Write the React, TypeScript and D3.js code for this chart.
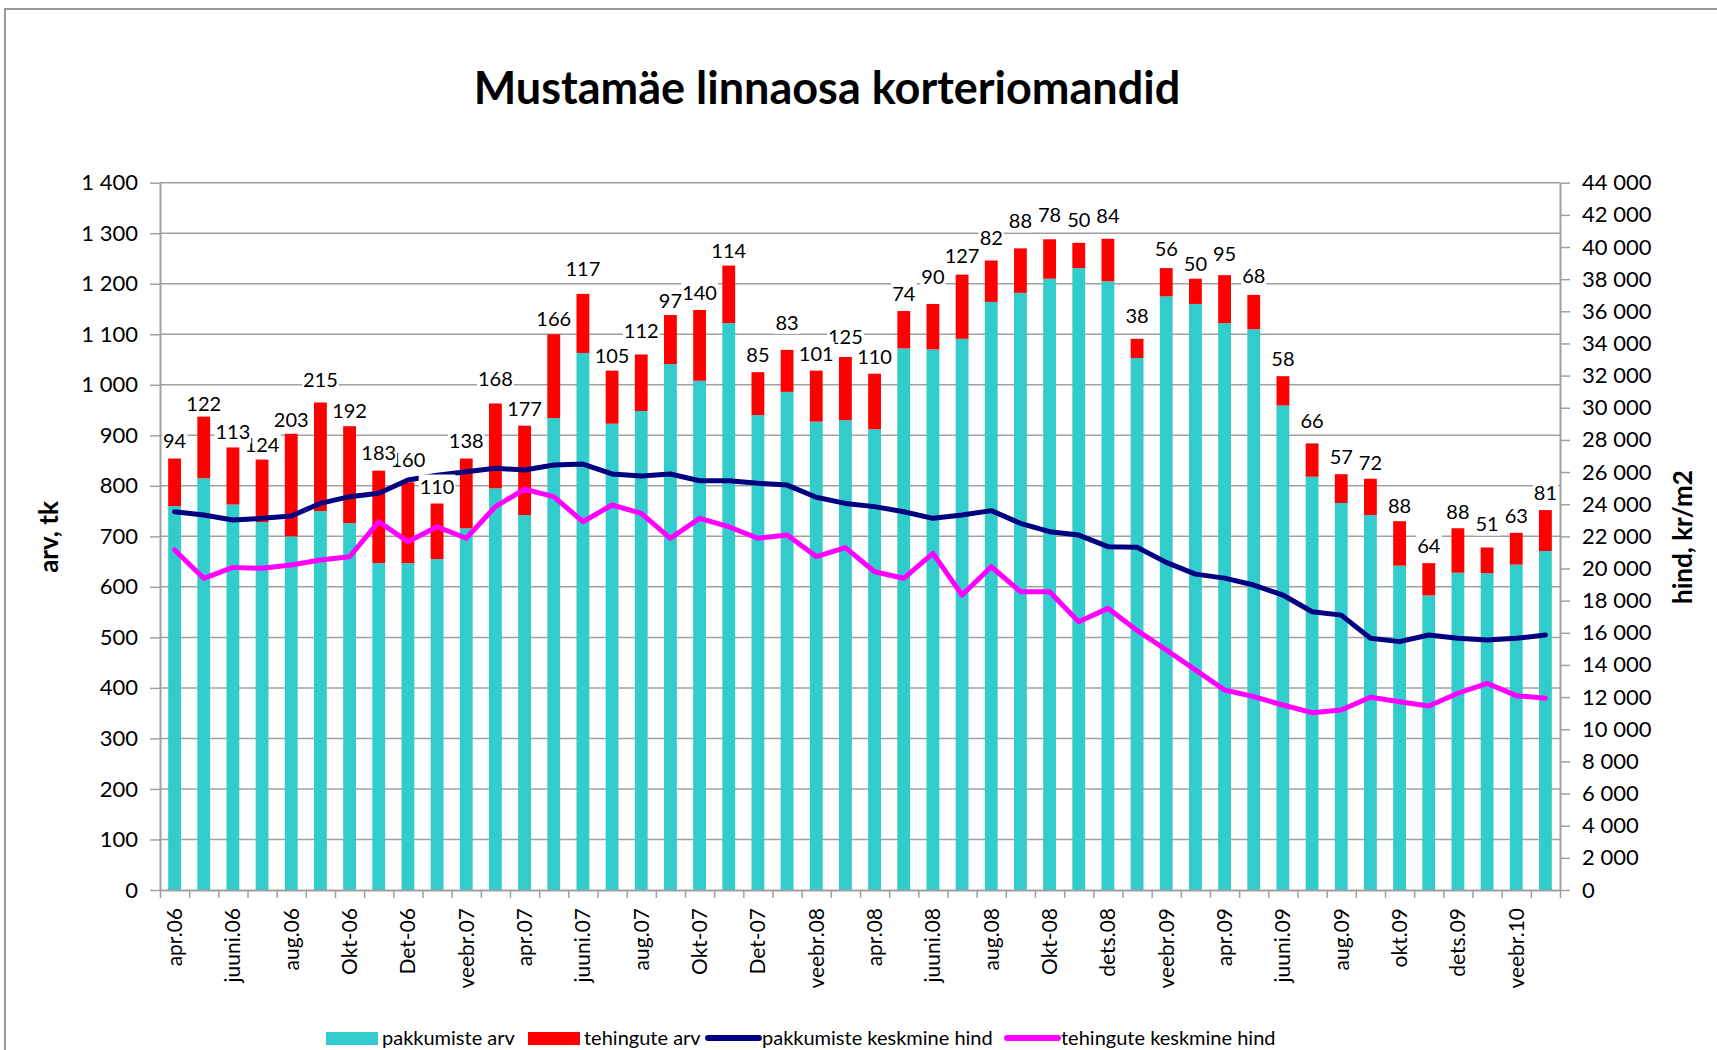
import React, { useEffect, useRef } from 'react';
import * as d3 from 'd3';

// months on the x axis (every second one gets a tick label)
const months = [
  'apr.06', 'mai.06', 'juuni.06', 'juuli.06', 'aug.06', 'sept.06', 'Okt-06', 'Nov-06', 'Det-06',
  'jaan.07', 'veebr.07', 'märts.07', 'apr.07', 'mai.07', 'juuni.07', 'juuli.07', 'aug.07', 'sept.07', 'Okt-07', 'Nov-07', 'Det-07',
  'jaan.08', 'veebr.08', 'märts.08', 'apr.08', 'mai.08', 'juuni.08', 'juuli.08', 'aug.08', 'sept.08', 'Okt-08', 'nov.08', 'dets.08',
  'jaan.09', 'veebr.09', 'märts.09', 'apr.09', 'mai.09', 'juuni.09', 'juuli.09', 'aug.09', 'sept.09', 'okt.09', 'nov.09', 'dets.09',
  'jaan.10', 'veebr.10', 'märts.10',
];

// pakkumiste arv (cyan)
const pakkumised = [
  760, 815, 763, 728, 700, 750, 726, 647, 647, 655, 716, 795, 742, 934, 1063, 923,
  948, 1041, 1008, 1122, 940, 986, 927, 930, 912, 1072, 1070, 1091, 1164, 1182, 1210, 1231,
  1205, 1053, 1175, 1160, 1122, 1110, 959, 818, 766, 742, 642, 583, 628, 627, 644, 671,
];

// tehingute arv (red, also the data labels)
const tehingud = [
  94, 122, 113, 124, 203, 215, 192, 183, 160, 110, 138, 168, 177, 166, 117, 105,
  112, 97, 140, 114, 85, 83, 101, 125, 110, 74, 90, 127, 82, 88, 78, 50,
  84, 38, 56, 50, 95, 68, 58, 66, 57, 72, 88, 64, 88, 51, 63, 81,
];

// pakkumiste keskmine hind, kr/m2
const pakkHind = [
  23530, 23330, 23020, 23120, 23270, 24050, 24470, 24680, 25500, 25800, 26020, 26230, 26130, 26440, 26500, 25880,
  25750, 25880, 25460, 25460, 25300, 25190, 24430, 24050, 23850, 23530, 23120, 23330, 23600, 22810, 22290, 22080,
  21360, 21320, 20380, 19650, 19400, 18970, 18350, 17310, 17100, 15660, 15450, 15860, 15660, 15550, 15660, 15860,
];

// tehingute keskmine hind, kr/m2
const tehHind = [
  21150, 19390, 20070, 20010, 20220, 20530, 20730, 22910, 21670, 22600, 21880, 23850, 24930, 24470, 22910, 23950,
  23430, 21880, 23120, 22600, 21880, 22080, 20740, 21300, 19800, 19390, 20940, 18350, 20110, 18560, 18560, 16690,
  17520, 16150, 14930, 13690, 12440, 12030, 11510, 11030, 11200, 11990, 11710, 11450, 12240, 12860, 12090, 11930,
];

const leftTicks = d3.range(0, 1401, 100);
const rightTicks = d3.range(0, 44001, 2000);

// how far above its bar each data label sits (px), labels were placed by hand in the original
const labelLift = [
  11, 6, 8, 8, 7, 15, 8, 11, 15, 10, 11, 17, 10, 8, 18, 8,
  16, 7, 10, 8, 10, 20, 10, 13, 10, 10, 20, 12, 16, 20, 17, 16,
  16, 16, 12, 8, 14, 12, 10, 15, 10, 9, 8, 10, 9, 16, 10, 10,
];

const FONT = 'Lato, "Open Sans", sans-serif';
const W = 1717;
const H = 1050;

function draw(node: SVGSVGElement) {
  const svg = d3.select(node);
  svg.selectAll('*').remove();

  const m = { left: 160, right: 1560, top: 182.7, bottom: 890 };

  const x = d3.scaleBand<string>().domain(months).range([m.left, m.right]).paddingInner(0.56).paddingOuter(0.28);
  const xi = d3.scaleLinear().domain([0, months.length]).range([m.left, m.right]);
  const yL = d3.scaleLinear().domain([0, 1400]).range([m.bottom, m.top]);
  const yR = d3.scaleLinear().domain([0, 44000]).range([m.bottom, m.top]);
  const cx = (i: number) => (x(months[i]) as number) + x.bandwidth() / 2;
  const fmt = (d: number) => d3.format(',')(d).replace(/,/g, ' ');

  svg.append('rect').attr('width', W).attr('height', H).attr('fill', '#fff');

  // frame
  svg.append('path')
    .attr('d', `M5,${H} V9 H${W}`)
    .attr('fill', 'none')
    .attr('stroke', '#9a9a9a')
    .attr('stroke-width', 2);

  // title
  svg.append('text')
    .attr('x', 827).attr('y', 104)
    .attr('text-anchor', 'middle')
    .attr('font-family', FONT).attr('font-weight', 700).attr('font-size', 45)
    .text('Mustamäe linnaosa korteriomandid');

  // gridlines
  svg.append('g').selectAll('line')
    .data(leftTicks.slice(1)).join('line')
    .attr('x1', m.left).attr('x2', m.right)
    .attr('y1', d => yL(d)).attr('y2', d => yL(d))
    .attr('stroke', '#a0a0a0').attr('stroke-width', 1.5);

  // bars
  const bars = svg.append('g');
  bars.selectAll('rect.pak')
    .data(pakkumised).join('rect')
    .attr('class', 'pak')
    .attr('x', (d, i) => x(months[i]) as number)
    .attr('width', x.bandwidth())
    .attr('y', d => yL(d))
    .attr('height', d => yL(0) - yL(d))
    .attr('fill', '#33cccc');
  bars.selectAll('rect.teh')
    .data(tehingud).join('rect')
    .attr('class', 'teh')
    .attr('x', (d, i) => x(months[i]) as number)
    .attr('width', x.bandwidth())
    .attr('y', (d, i) => yL(pakkumised[i] + d))
    .attr('height', (d, i) => yL(pakkumised[i]) - yL(pakkumised[i] + d))
    .attr('fill', '#ff0000');

  // axes
  const styleAxis = (g: any) => {
    g.select('.domain').attr('stroke', '#a0a0a0').attr('stroke-width', 2);
    g.selectAll('.tick line').attr('stroke', '#a0a0a0').attr('stroke-width', 1.5);
    g.selectAll('.tick text').attr('fill', '#000').attr('font-size', 22).attr('font-family', FONT);
  };

  svg.append('g')
    .attr('transform', `translate(${m.left},0)`)
    .call(d3.axisLeft(yL).tickValues(leftTicks).tickSize(10).tickSizeOuter(0).tickPadding(12).tickFormat(fmt as any))
    .call(styleAxis);

  svg.append('g')
    .attr('transform', `translate(${m.right},0)`)
    .call(d3.axisRight(yR).tickValues(rightTicks).tickSize(10).tickSizeOuter(0).tickPadding(12).tickFormat(fmt as any))
    .call(styleAxis);

  svg.append('g')
    .attr('transform', `translate(0,${m.bottom})`)
    .call(d3.axisBottom(xi).tickValues(d3.range(0, months.length + 1)).tickSize(8).tickSizeOuter(0).tickFormat(() => ''))
    .call(styleAxis);

  const xLab = svg.append('g')
    .attr('transform', `translate(0,${m.bottom})`)
    .call(d3.axisBottom(x).tickValues(months.filter((d, i) => i % 2 === 0)).tickSize(0))
    .call(styleAxis);
  xLab.select('.domain').remove();
  xLab.selectAll('.tick text')
    .attr('transform', 'rotate(-90)')
    .attr('text-anchor', 'end')
    .attr('x', -18).attr('y', 0).attr('dy', '0.35em')
    .attr('font-size', 21);

  // lines
  const line = d3.line<number>().x((d, i) => cx(i)).y(d => yR(d));
  svg.append('path')
    .datum(pakkHind)
    .attr('d', line)
    .attr('fill', 'none').attr('stroke', '#000080').attr('stroke-width', 5)
    .attr('stroke-linejoin', 'round').attr('stroke-linecap', 'round');
  svg.append('path')
    .datum(tehHind)
    .attr('d', line)
    .attr('fill', 'none').attr('stroke', '#ff00ff').attr('stroke-width', 5)
    .attr('stroke-linejoin', 'round').attr('stroke-linecap', 'round');

  // data labels with white boxes (earlier labels sit on top)
  const labels = svg.append('g');
  const order = d3.range(tehingud.length).reverse();
  order.forEach(i => {
    const g = labels.append('g');
    const t = g.append('text')
      .attr('x', cx(i))
      .attr('y', yL(pakkumised[i] + tehingud[i]) - labelLift[i])
      .attr('text-anchor', 'middle')
      .attr('font-family', FONT).attr('font-size', 20)
      .text(tehingud[i]);
    const bb = (t.node() as SVGTextElement).getBBox();
    g.insert('rect', 'text')
      .attr('x', bb.x - 1).attr('y', bb.y + 1)
      .attr('width', bb.width + 2).attr('height', bb.height - 1)
      .attr('fill', '#fff');
  });

  // axis titles
  svg.append('text')
    .attr('transform', 'translate(58,537) rotate(-90)')
    .attr('text-anchor', 'middle')
    .attr('font-family', FONT).attr('font-weight', 700).attr('font-size', 26)
    .text('arv, tk');
  svg.append('text')
    .attr('transform', 'translate(1692,537) rotate(-90)')
    .attr('text-anchor', 'middle')
    .attr('font-family', FONT).attr('font-weight', 700).attr('font-size', 26)
    .text('hind, kr/m2');

  // legend
  const legend = [
    { name: 'pakkumiste arv', color: '#33cccc', kind: 'rect', x: 326 },
    { name: 'tehingute arv', color: '#ff0000', kind: 'rect', x: 528 },
    { name: 'pakkumiste keskmine hind', color: '#000080', kind: 'line', x: 706 },
    { name: 'tehingute keskmine hind', color: '#ff00ff', kind: 'line', x: 1005 },
  ];
  const lg = svg.append('g');
  legend.forEach(l => {
    if (l.kind === 'rect') {
      lg.append('rect').attr('x', l.x).attr('y', 1032).attr('width', 52).attr('height', 13).attr('fill', l.color);
    } else {
      lg.append('line').attr('x1', l.x + 2).attr('x2', l.x + 53).attr('y1', 1038).attr('y2', 1038)
        .attr('stroke', l.color).attr('stroke-width', 6).attr('stroke-linecap', 'round');
    }
    lg.append('text')
      .attr('x', l.x + 56).attr('y', 1045)
      .attr('font-family', FONT).attr('font-size', 20)
      .text(l.name);
  });
}

export default function App() {
  const ref = useRef<SVGSVGElement>(null);

  useEffect(() => {
    if (ref.current) draw(ref.current);
  }, []);

  return (
    <svg
      ref={ref}
      width={W}
      height={H}
      style={{ position: 'absolute', left: 0, top: 0, background: '#fff' }}
    />
  );
}
